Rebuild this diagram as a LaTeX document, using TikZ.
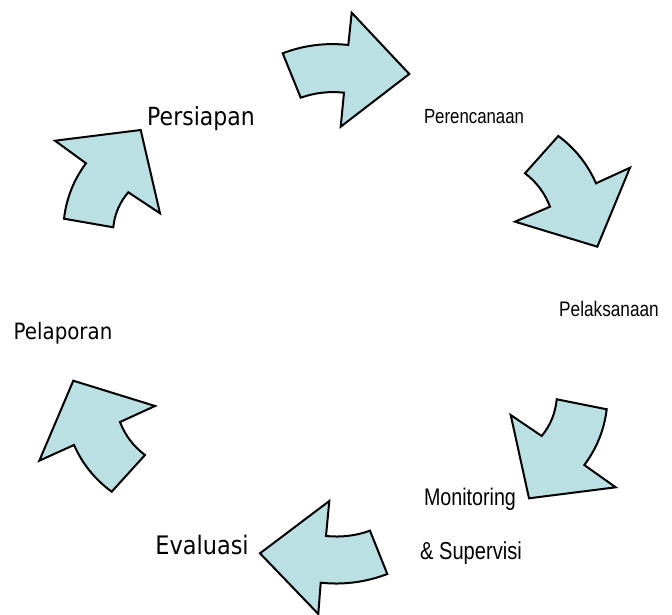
\documentclass[tikz,border=0pt]{standalone}
\usepackage{fontspec}
\setmainfont{DejaVu Sans}
\newfontfamily\tfont[FakeStretch=0.88]{DejaVu Sans}
\newfontfamily\nfont[FakeStretch=0.82]{Liberation Sans}
\definecolor{arrowfill}{RGB}{186,224,228}
\begin{document}
\begin{tikzpicture}[x=1pt,y=-1pt,
  bigarrow/.style={draw=black,fill=arrowfill,line width=2pt,line join=miter},
  wlabel/.style={inner sep=0pt,anchor=base,font=\tfont},
  nlabel/.style={inner sep=0pt,anchor=base,font=\nfont}]
\useasboundingbox (0,0) rectangle (672,615);
% arrow 1 (top)
\draw[bigarrow] (282.7,53.3) .. controls (303.9,45.2) and (325.8,42.5) .. (348.3,45) -- (351.7,12.7) -- (409.3,74)
  -- (340.7,126.7) -- (344,92.7) .. controls (329.2,91.1) and (314.8,92.7) .. (300.7,97.7) -- cycle;
% arrow 2 (upper right)
\draw[bigarrow] (558.3,136) .. controls (575.0,148.4) and (587.6,164.2) .. (596,183.3) -- (630,167.7) -- (597.3,246.7)
  -- (515,221.7) -- (550,206.7) .. controls (544.9,193.2) and (536.5,182.0) .. (525,173.3) -- cycle;
% arrow 3 (lower right)
\draw[bigarrow] (556.7,399.3) -- (606.7,409.3) .. controls (604.2,429.9) and (596.7,448.4) .. (584.3,465)
  -- (615.7,487.3) -- (529,498.3) -- (510.7,415) -- (541.7,436) .. controls (550.4,425.3) and (555.4,413.1) .. cycle;
% arrow 4 (bottom)
\draw[bigarrow] (329.3,501) -- (326,536) .. controls (341.1,537.5) and (355.7,535.8) .. (370,530.7) -- (387.3,574)
  .. controls (365.8,582.2) and (343.6,585.1) .. (320.7,582.7) -- (318.3,614) -- (260,553.3) -- cycle;
% arrow 5 (lower left)
\draw[bigarrow] (73.3,380.7) -- (155,406) -- (120,422) .. controls (125.1,435.4) and (133.5,446.4) .. (145,455)
  -- (111.7,491.7) .. controls (95.0,479.5) and (82.4,463.9) .. (74,445) -- (39.3,460.7) -- cycle;
% arrow 6 (upper left)
\draw[bigarrow] (55,140.7) -- (140.7,130) -- (160,213.3) -- (128.3,192.3) .. controls (119.6,202.4) and (114.6,214.1) ..
  (113.3,227.3) -- (64,218.7) .. controls (66.4,198.3) and (73.7,179.8) .. (86,163.3) -- cycle;
% labels
\node[wlabel,font=\tfont\fontsize{25}{30}\selectfont] (persiapan) at (201,126) {Persiapan};
\node[nlabel,font=\nfont\fontsize{20.5}{24}\selectfont] (perencanaan) at (474,124) {Perencanaan};
\node[nlabel,font=\nfont\fontsize{21}{25}\selectfont] (pelaksanaan) at (609,316) {Pelaksanaan};
\node[wlabel,font=\tfont\fontsize{22.5}{26}\selectfont] (pelaporan) at (63,339) {Pelaporan};
\node[nlabel,font=\nfont\fontsize{24}{28}\selectfont] (monitoring) at (470,505) {Monitoring};
\node[nlabel,font=\nfont\fontsize{24.5}{28}\selectfont] (supervisi) at (471,559) {\& Supervisi};
\node[wlabel,font=\tfont\fontsize{25.5}{29}\selectfont] (evaluasi) at (202,554) {Evaluasi};
\end{tikzpicture}
\end{document}
